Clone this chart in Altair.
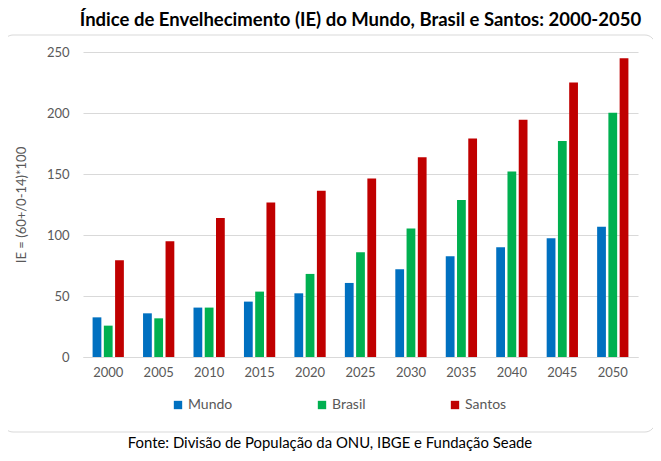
import altair as alt
import pandas as pd

years = ["2000", "2005", "2010", "2015", "2020", "2025", "2030", "2035", "2040", "2045", "2050"]
series = ["Mundo", "Brasil", "Santos"]
mundo = [32.5, 35.8, 40.5, 45.4, 52.2, 60.7, 71.9, 82.6, 90.0, 97.4, 106.7]
brasil = [25.7, 31.7, 40.5, 53.6, 68.1, 85.9, 105.3, 128.6, 152.1, 177.0, 200.2]
santos = [79.3, 94.9, 114.0, 126.6, 136.2, 146.3, 163.8, 179.2, 194.5, 225.1, 244.8]
colors = ["#0070C0", "#00B050", "#C00000"]

rows = []
for i, y in enumerate(years):
    for s, vals in zip(series, [mundo, brasil, santos]):
        rows.append({"Ano": y, "Série": s, "IE": vals[i]})
df = pd.DataFrame(rows)

FONT = "Lato"
GRAY = "#595959"

bars = alt.Chart(df).mark_bar().encode(
    x=alt.X("Ano:N", sort=years, title=None,
            scale=alt.Scale(paddingInner=0.38, paddingOuter=0.19),
            axis=alt.Axis(labelAngle=0, labelFontSize=13, labelColor=GRAY, labelFont=FONT,
                          ticks=False, domainColor="#d9d9d9", labelPadding=9)),
    xOffset=alt.XOffset("Série:N", sort=series, scale=alt.Scale(paddingInner=0.22)),
    y=alt.Y("IE:Q", title="IE = (60+/0-14)*100",
            scale=alt.Scale(domain=[0, 250]),
            axis=alt.Axis(values=[0, 50, 100, 150, 200, 250], labelFontSize=13, labelColor=GRAY,
                          labelFont=FONT, ticks=False, domain=False, gridColor="#d9d9d9",
                          labelPadding=14, titleFontSize=13, titleFont=FONT, titleColor=GRAY,
                          titleFontWeight="normal", titlePadding=18)),
    color=alt.Color("Série:N", sort=series, scale=alt.Scale(domain=series, range=colors),
                    legend=alt.Legend(title=None, orient="none", direction="horizontal",
                                      legendX=88, legendY=346, symbolType="square",
                                      symbolSize=70, symbolStrokeWidth=0, labelFontSize=14,
                                      labelColor=GRAY, labelFont=FONT, columnPadding=82,
                                      labelOffset=3)),
)

frame = alt.Chart(pd.DataFrame({"k": [0]})).mark_rect(
    fill=None, stroke="#d9d9d9", strokeWidth=1, cornerRadius=10
).encode(x=alt.value(-80), x2=alt.value(572), y=alt.value(-17), y2=alt.value(380))

footer = alt.Chart(pd.DataFrame({"t": ["Fonte: Divisão de População da ONU, IBGE e Fundação Seade"]})).mark_text(
    fontSize=14.9, font=FONT, color="#000000", align="center", baseline="middle"
).encode(text="t:N", x=alt.value(247), y=alt.value(392))

chart = alt.layer(frame, bars, footer).properties(
    width=555, height=305,
    title=alt.Title("Índice de Envelhecimento (IE) do Mundo, Brasil e Santos: 2000-2050",
                    fontSize=18.5, font=FONT, fontWeight="bold", color="#000000",
                    anchor="middle", offset=5),
    autosize=alt.AutoSizeParams(type="none"),
    padding={"left": 75, "top": 44, "right": 15, "bottom": 96},
).configure_view(stroke=None)

chart.save("out.html", embed_options={"renderer": "svg", "actions": False})
